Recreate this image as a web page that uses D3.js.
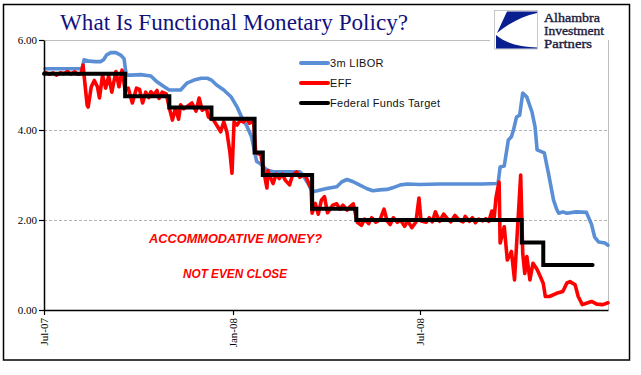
<!DOCTYPE html>
<html>
<head>
<meta charset="utf-8">
<script src="https://cdn.jsdelivr.net/npm/d3@7"></script>
<style>
  html, body { margin: 0; padding: 0; background: #fff; }
  svg { display: block; }
</style>
</head>
<body>
<svg id="chart" width="641" height="375"></svg>
<script>
// ---------------- DATA ----------------
const seriesNames = ["3m LIBOR", "EFF", "Federal Funds Target"];
const seriesColors = ["#5a8fd6", "#ff0000", "#000000"];

const yTicks = [0, 2, 4, 6];
const xTickDates = ["2007-07-01", "2008-01-01", "2008-07-01"];
const xTickLabels = ["Jul-07", "Jan-08", "Jul-08"];
const xDomain = ["2007-07-01", "2008-12-31"];

const liborDates = ["2007-07-02","2007-07-16","2007-08-01","2007-08-07","2007-08-09","2007-08-14","2007-08-20","2007-08-25","2007-08-28","2007-08-31","2007-09-04","2007-09-09","2007-09-14","2007-09-17","2007-09-19","2007-09-24","2007-10-03","2007-10-13","2007-10-19","2007-10-26","2007-10-31","2007-11-04","2007-11-11","2007-11-17","2007-11-24","2007-12-01","2007-12-07","2007-12-11","2007-12-16","2007-12-23","2007-12-30","2008-01-05","2008-01-11","2008-01-14","2008-01-19","2008-01-22","2008-01-24","2008-01-27","2008-02-03","2008-02-09","2008-02-20","2008-03-06","2008-03-09","2008-03-14","2008-03-18","2008-03-23","2008-04-01","2008-04-11","2008-04-16","2008-04-21","2008-04-27","2008-05-03","2008-05-10","2008-05-16","2008-05-23","2008-05-30","2008-06-05","2008-06-12","2008-06-19","2008-07-01","2008-07-20","2008-08-10","2008-08-30","2008-09-15","2008-09-17","2008-09-21","2008-09-25","2008-09-28","2008-09-30","2008-10-03","2008-10-06","2008-10-09","2008-10-13","2008-10-18","2008-10-21","2008-10-23","2008-10-30","2008-11-03","2008-11-08","2008-11-11","2008-11-13","2008-11-17","2008-11-21","2008-11-30","2008-12-10","2008-12-15","2008-12-18","2008-12-22","2008-12-28","2008-12-31"];
const liborValues = [5.36,5.36,5.36,5.36,5.56,5.53,5.52,5.52,5.56,5.67,5.72,5.72,5.66,5.58,5.22,5.22,5.23,5.20,5.07,4.96,4.89,4.89,4.89,5.04,5.11,5.15,5.15,5.11,5.00,4.89,4.74,4.51,4.20,4.11,3.85,3.52,3.30,3.26,3.11,3.07,3.07,3.07,3.00,2.81,2.63,2.65,2.70,2.74,2.85,2.90,2.85,2.78,2.70,2.65,2.67,2.68,2.72,2.78,2.80,2.79,2.80,2.80,2.80,2.81,3.18,3.20,3.78,3.85,4.00,4.29,4.33,4.82,4.73,4.40,4.07,3.56,3.49,3.04,2.44,2.24,2.15,2.18,2.15,2.18,2.17,1.90,1.62,1.51,1.49,1.44];

const effDates = ["2007-07-02","2007-07-06","2007-07-10","2007-07-13","2007-07-17","2007-07-20","2007-07-24","2007-07-27","2007-07-31","2007-08-03","2007-08-06","2007-08-08","2007-08-12","2007-08-13","2007-08-16","2007-08-19","2007-08-22","2007-08-24","2007-08-27","2007-08-30","2007-09-02","2007-09-05","2007-09-09","2007-09-12","2007-09-15","2007-09-18","2007-09-21","2007-09-25","2007-09-29","2007-10-02","2007-10-05","2007-10-08","2007-10-11","2007-10-13","2007-10-16","2007-10-19","2007-10-21","2007-10-24","2007-10-28","2007-10-31","2007-11-03","2007-11-06","2007-11-09","2007-11-11","2007-11-14","2007-11-17","2007-11-22","2007-11-26","2007-11-29","2007-12-02","2007-12-06","2007-12-08","2007-12-13","2007-12-16","2007-12-20","2007-12-23","2007-12-26","2007-12-29","2007-12-31","2008-01-02","2008-01-05","2008-01-08","2008-01-11","2008-01-14","2008-01-17","2008-01-21","2008-01-23","2008-01-25","2008-01-28","2008-01-31","2008-02-01","2008-02-03","2008-02-04","2008-02-06","2008-02-09","2008-02-12","2008-02-15","2008-02-18","2008-02-21","2008-02-25","2008-02-28","2008-03-03","2008-03-06","2008-03-09","2008-03-12","2008-03-17","2008-03-18","2008-03-21","2008-03-24","2008-03-27","2008-03-30","2008-04-02","2008-04-07","2008-04-11","2008-04-14","2008-04-17","2008-04-21","2008-04-24","2008-04-27","2008-05-01","2008-05-05","2008-05-08","2008-05-12","2008-05-15","2008-05-19","2008-05-23","2008-05-27","2008-05-30","2008-06-02","2008-06-05","2008-06-09","2008-06-12","2008-06-16","2008-06-19","2008-06-23","2008-06-27","2008-06-30","2008-07-02","2008-07-07","2008-07-10","2008-07-13","2008-07-16","2008-07-20","2008-07-24","2008-07-28","2008-07-31","2008-08-04","2008-08-08","2008-08-12","2008-08-14","2008-08-18","2008-08-21","2008-08-24","2008-08-27","2008-08-31","2008-09-03","2008-09-06","2008-09-09","2008-09-11","2008-09-13","2008-09-15","2008-09-16","2008-09-17","2008-09-21","2008-09-24","2008-09-28","2008-10-01","2008-10-03","2008-10-07","2008-10-09","2008-10-11","2008-10-13","2008-10-16","2008-10-19","2008-10-23","2008-10-26","2008-10-29","2008-10-31","2008-11-04","2008-11-11","2008-11-17","2008-11-21","2008-11-24","2008-11-29","2008-12-02","2008-12-06","2008-12-10","2008-12-15","2008-12-20","2008-12-26","2008-12-31"];
const effValues = [5.28,5.24,5.27,5.22,5.27,5.25,5.30,5.24,5.29,5.24,5.25,5.44,4.55,4.51,4.96,5.10,4.96,4.71,5.22,4.93,5.20,4.84,5.30,4.96,5.33,4.88,4.93,4.60,4.93,4.90,4.60,4.84,4.72,4.85,4.78,4.88,4.70,4.84,4.80,4.49,4.22,4.49,4.24,4.56,4.47,4.52,4.60,4.42,4.71,4.44,4.49,4.29,4.22,4.11,3.96,4.18,3.96,3.50,3.04,4.18,4.11,4.22,4.18,4.25,4.15,4.20,3.52,3.48,3.45,3.10,2.95,2.71,3.10,2.97,2.81,3.02,2.92,3.02,2.88,2.78,3.00,3.07,2.95,3.00,2.96,2.70,2.15,2.37,2.13,2.44,2.52,2.16,2.33,2.36,2.24,2.33,2.22,2.30,2.36,1.95,1.88,2.02,1.92,2.05,1.95,2.00,2.24,1.98,1.90,2.05,1.95,2.00,1.86,1.98,1.83,1.95,2.49,1.98,1.95,2.05,1.96,2.18,1.97,2.13,2.02,1.96,2.10,2.00,1.96,2.08,1.97,2.05,1.94,2.02,1.98,2.03,1.97,2.20,2.00,2.50,2.74,2.84,1.49,1.85,1.11,1.30,0.67,1.45,3.00,1.26,0.81,1.19,0.67,1.04,0.90,0.75,0.59,0.30,0.30,0.37,0.41,0.60,0.63,0.56,0.30,0.12,0.15,0.19,0.13,0.12,0.16];

const targetDates = ["2007-07-01","2007-09-18","2007-10-31","2007-12-11","2008-01-22","2008-01-30","2008-03-18","2008-04-30","2008-10-08","2008-10-29","2008-12-16"];
const targetValues = [5.25,4.75,4.50,4.25,3.50,3.00,2.25,2.00,1.50,1.00,1.00];

const titleText = "What Is Functional Monetary Policy?";
const logoLines = ["Alhambra", "Investment", "Partners"];
const noteLines = ["ACCOMMODATIVE MONEY?", "NOT EVEN CLOSE"];

// ---------------- CHART ----------------
const parse = d3.utcParse("%Y-%m-%d");
const svg = d3.select("#chart");
const M = { left: 44, right: 608, top: 40, bottom: 310 };

const x = d3.scaleUtc().domain(xDomain.map(parse)).range([M.left, M.right]);
const y = d3.scaleLinear().domain([0, 6]).range([M.bottom, M.top]);

svg.append("rect").attr("width", 641).attr("height", 375).attr("fill", "#fff");

// outer frame
svg.append("rect").attr("x", 3.5).attr("y", 4.5).attr("width", 626).attr("height", 355.5)
  .attr("fill", "none").attr("stroke", "#000").attr("stroke-width", 1.5);

// gridlines
svg.append("g").selectAll("line").data(yTicks.filter(v => v > 0 && v < 6)).join("line")
  .attr("x1", M.left).attr("x2", M.right)
  .attr("y1", d => y(d) + 0.5).attr("y2", d => y(d) + 0.5)
  .attr("stroke", "#b4b4b4").attr("stroke-width", 1).attr("stroke-dasharray", "3,2");
// plot-area top & right border
svg.append("line").attr("x1", M.left).attr("x2", M.right).attr("y1", y(6) + 0.5).attr("y2", y(6) + 0.5)
  .attr("stroke", "#bdbdbd");
svg.append("line").attr("x1", M.right + 0.5).attr("x2", M.right + 0.5).attr("y1", y(6)).attr("y2", M.bottom)
  .attr("stroke", "#bdbdbd");

// series lines
const line = d3.line().x(d => x(d.date)).y(d => y(d.value));
const toData = (ds, vs) => ds.map((d, i) => ({ date: parse(d), value: vs[i] }));

svg.append("path").datum(toData(liborDates, liborValues))
  .attr("fill", "none").attr("stroke", seriesColors[0]).attr("stroke-width", 3.6)
  .attr("stroke-linejoin", "round").attr("stroke-linecap", "round").attr("d", line);

svg.append("path").datum(toData(effDates, effValues))
  .attr("fill", "none").attr("stroke", seriesColors[1]).attr("stroke-width", 3.6)
  .attr("stroke-linejoin", "round").attr("stroke-linecap", "round").attr("d", line);

svg.append("path").datum(toData(targetDates, targetValues))
  .attr("fill", "none").attr("stroke", seriesColors[2]).attr("stroke-width", 4)
  .attr("stroke-linejoin", "miter").attr("stroke-linecap", "round")
  .attr("d", d3.line().x(d => x(d.date)).y(d => y(d.value)).curve(d3.curveStepAfter));

// y axis
const yAxis = svg.append("g").attr("transform", `translate(${M.left},0)`)
  .call(d3.axisLeft(y).tickValues(yTicks).tickFormat(d3.format(".2f")).tickSize(5).tickSizeOuter(0));
yAxis.select(".domain").attr("stroke", "#000").attr("stroke-width", 1.5);
yAxis.selectAll(".tick line").attr("stroke", "#000").attr("stroke-width", 1.2);
yAxis.selectAll("text").attr("font-family", "Liberation Serif, serif").attr("font-size", 11)
  .attr("fill", "#000").attr("x", -7).attr("dy", "0.35em");

// x axis
const xAxis = svg.append("g").attr("transform", `translate(0,${M.bottom})`)
  .call(d3.axisBottom(x).tickValues(xTickDates.map(parse))
    .tickFormat((d, i) => xTickLabels[i]).tickSize(5).tickSizeOuter(0));
xAxis.select(".domain").attr("stroke", "#000").attr("stroke-width", 1.5);
xAxis.selectAll(".tick line").attr("stroke", "#000").attr("stroke-width", 1.2);
xAxis.selectAll("text").attr("font-family", "Liberation Serif, serif").attr("font-size", 11)
  .attr("fill", "#000").attr("text-anchor", "end")
  .attr("transform", "rotate(-90)").attr("x", -8).attr("y", 0).attr("dy", "0.35em");

// legend
const legend = svg.append("g");
seriesNames.forEach((name, i) => {
  const ly = 63 + i * 20;
  legend.append("line").attr("x1", 301).attr("x2", 328).attr("y1", ly).attr("y2", ly)
    .attr("stroke", seriesColors[i]).attr("stroke-width", 4).attr("stroke-linecap", "round");
  legend.append("text").attr("x", 330).attr("y", ly + 4).text(name)
    .attr("font-family", "Liberation Sans, Arial, sans-serif").attr("font-size", 11)
    .attr("letter-spacing", 0.3).attr("fill", "#111");
});

// annotations
svg.append("text").attr("x", 149).attr("y", 243).text(noteLines[0])
  .attr("font-family", "Liberation Sans, Arial, sans-serif").attr("font-weight", "bold")
  .attr("font-style", "italic").attr("font-size", 13).attr("fill", "#ff0000")
  .attr("textLength", 173).attr("lengthAdjust", "spacingAndGlyphs");
svg.append("text").attr("x", 183).attr("y", 278).text(noteLines[1])
  .attr("font-family", "Liberation Sans, Arial, sans-serif").attr("font-weight", "bold")
  .attr("font-style", "italic").attr("font-size", 13).attr("fill", "#ff0000")
  .attr("textLength", 104).attr("lengthAdjust", "spacingAndGlyphs");

// title
svg.append("text").attr("x", 60).attr("y", 30).text(titleText)
  .attr("font-family", "Liberation Serif, serif").attr("font-size", 22.5).attr("fill", "#12127f")
  .attr("textLength", 348).attr("lengthAdjust", "spacingAndGlyphs");

// logo
const logo = svg.append("g");
logo.append("rect").attr("x", 490).attr("y", 6).attr("width", 135).attr("height", 46).attr("fill", "#fff");
logo.append("rect").attr("x", 494.5).attr("y", 10.5).attr("width", 43).attr("height", 38.5)
  .attr("fill", "#fff").attr("stroke", "#c8c8c8").attr("stroke-width", 1);
logo.append("path").attr("fill", "#0a1f8f")
  .attr("d", "M507,11.5 L537,11.5 L537,13 C522,16 508,24 497,33 Z");
logo.append("path").attr("fill", "#0a1f8f")
  .attr("d", "M496,35 C505,43 520,47 537,47.5 L537,48.5 L496,48.5 Z");
const logoWidths = [56, 60, 48];
logoLines.forEach((t, i) => {
  logo.append("text").attr("x", 544).attr("y", 22 + i * 13.2).text(t)
    .attr("font-family", "Liberation Serif, serif").attr("font-size", 11.8)
    .attr("fill", "#1c1c3c").attr("stroke", "#1c1c3c").attr("stroke-width", 0.35)
    .attr("textLength", logoWidths[i]).attr("lengthAdjust", "spacingAndGlyphs");
});
logo.append("line").attr("x1", M.right + 0.5).attr("x2", M.right + 0.5).attr("y1", 53).attr("y2", y(6))
  .attr("stroke", "#bdbdbd");
</script>
</body>
</html>
